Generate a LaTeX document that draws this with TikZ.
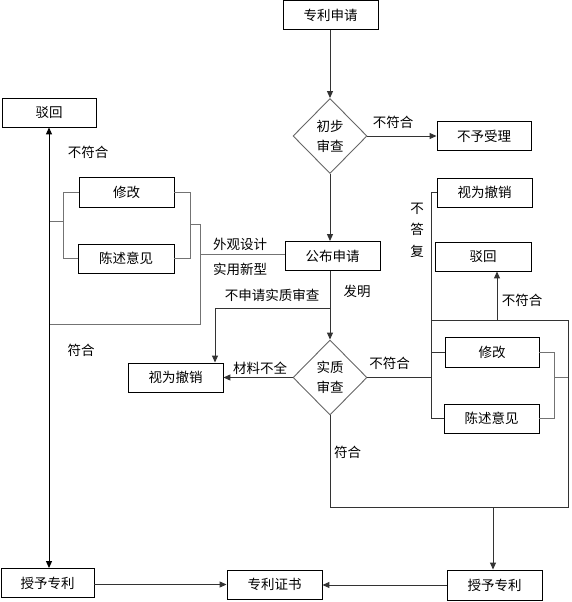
\documentclass[tikz,border=0pt]{standalone}
\usepackage{fontspec}
\newfontfamily\cjk{Noto Sans CJK SC}
\usetikzlibrary{shapes.geometric,arrows.meta}
\begin{document}
\begin{tikzpicture}[x=1pt,y=-1pt,
  font=\cjk\fontsize{13.5}{20}\selectfont,
  box/.style={draw=black,line width=0.9pt,rectangle,inner sep=0pt,minimum width=95pt,minimum height=29pt},
  dia/.style={draw=black!60,line width=0.9pt,diamond,inner sep=0pt,align=center,minimum width=74pt,minimum height=75pt},
  conn/.style={draw=black!80,line width=1pt},
  arr/.style={conn,-{Triangle[length=7pt,width=6pt]}},
  brk/.style={draw=black!55,line width=1pt},
  lbl/.style={inner sep=0pt}]
\useasboundingbox (0,0) rectangle (572,602);
% nodes
\node[box] (zlsq) at (330.5,15) {专利申请};
\node[dia] (cbsc) at (330,136) {初步\\审查};
\node[box,minimum width=94pt] (bysl) at (484,136) {不予受理};
\node[box] (gbsq) at (332.5,256) {公布申请};
\node[box,minimum width=94pt] (bh1) at (49,112.5) {驳回};
\node[box,minimum height=30pt] (xg1) at (126.5,192) {修改};
\node[box,minimum width=96pt] (csyj1) at (126,258.5) {陈述意见};
\node[box] (swcx1) at (175.5,377.5) {视为撤销};
\node[dia] (szsc) at (330,377.5) {实质\\审查};
\node[box] (swcx2) at (484.5,192.5) {视为撤销};
\node[box,minimum width=96pt] (bh2) at (483,256.5) {驳回};
\node[box,minimum width=94pt,minimum height=30pt] (xg2) at (492,352) {修改};
\node[box] (csyj2) at (491.5,418.5) {陈述意见};
\node[box,minimum width=93pt] (sy1) at (47.5,583) {授予专利};
\node[box] (zlzs) at (274.5,584.5) {专利证书};
\node[box,minimum height=30pt] (sy2) at (494.5,585) {授予专利};
% labels
\node[lbl] (t1) at (393,122) {不符合};
\node[lbl] (t2) at (240,244) {外观设计};
\node[lbl] (t3) at (240,269) {实用新型};
\node[lbl] (t4) at (88,152) {不符合};
\node[lbl] (t5) at (81,350) {符合};
\node[lbl] (t6) at (272,295) {不申请实质审查};
\node[lbl] (t7) at (357,291) {发明};
\node[lbl] (t8) at (260,368) {材料不全};
\node[lbl] (t9) at (389.5,363) {不符合};
\node[lbl] (t10) at (347.5,452) {符合};
\node[lbl,align=center,font=\cjk\fontsize{13.5}{21.5}\selectfont] (t11) at (417,230) {不\\答\\复};
\node[lbl] (t12) at (522,300) {不符合};
% coordinates
\coordinate (b1) at (330,308);
\coordinate (b2) at (215,308);
\coordinate (rtop) at (431,192.5);
\coordinate (rbot) at (431,418.5);
\coordinate (rbx) at (554,352);
\coordinate (f1) at (431,320);
\coordinate (f2) at (568,320);
\coordinate (f3) at (568,507);
\coordinate (f4) at (330,507);
\coordinate (up2) at (497,320);
\coordinate (dn2) at (493,507);
\coordinate (lx) at (200,254);
\coordinate (la) at (200,224);
\coordinate (lb) at (200,324);
\coordinate (lc) at (190,224);
\coordinate (ll) at (63,221);
\coordinate (jl1) at (49,221);
\coordinate (jl2) at (49,324);
% main flow
\draw[arr] (zlsq.south -| cbsc.north) -- (cbsc.north);
\draw[arr] (cbsc.east) -- (bysl.west);
\draw[arr] (cbsc.south) -- (cbsc.south |- gbsq.north);
\draw[arr] (cbsc.south |- gbsq.south) -- (szsc.north);
\draw[conn] (b1) -- (b2);
\draw[arr] (b2) -- (b2 |- swcx1.north);
\draw[arr] (szsc.west) -- (swcx1.east);
% right side
\draw[conn] (szsc.east) -- (szsc.east -| rtop);
\draw[conn] (swcx2.west) -- (rtop) -- (rbot) -- (csyj2.west);
\draw[conn] (xg2.west -| rtop) -- (xg2.west);
\draw[brk] (xg2.east) -- (xg2.east -| rbx) -- (csyj2.east -| rbx) -- (csyj2.east);
\draw[brk] (szsc.east -| rbx) -- (szsc.east -| f2);
\draw[conn] (f1) -- (f2) -- (f3) -- (f4) -- (szsc.south);
\draw[arr] (up2) -- (up2 |- bh2.south);
\draw[arr] (dn2) -- (dn2 |- sy2.north);
\draw[arr] (sy2.west) -- (sy2.west -| zlzs.east);
\draw[arr] (sy1.east |- zlzs.west) -- (zlzs.west);
% left side
\draw[brk] (gbsq.west |- lx) -- (lx);
\draw[brk] (lc) -- (la) -- (lb) -- (jl2);
\draw[brk] (xg1.east) -- (xg1.east -| lc) -- (csyj1.east -| lc) -- (csyj1.east);
\draw[brk] (xg1.west) -- (xg1.west -| ll) -- (csyj1.west -| ll) -- (csyj1.west);
\draw[brk] (jl1) -- (ll);
\draw[arr,draw=black] (jl1) -- (bh1.south);
\draw[arr,draw=black] (jl1) -- (jl1 |- sy1.north);
\end{tikzpicture}
\end{document}
